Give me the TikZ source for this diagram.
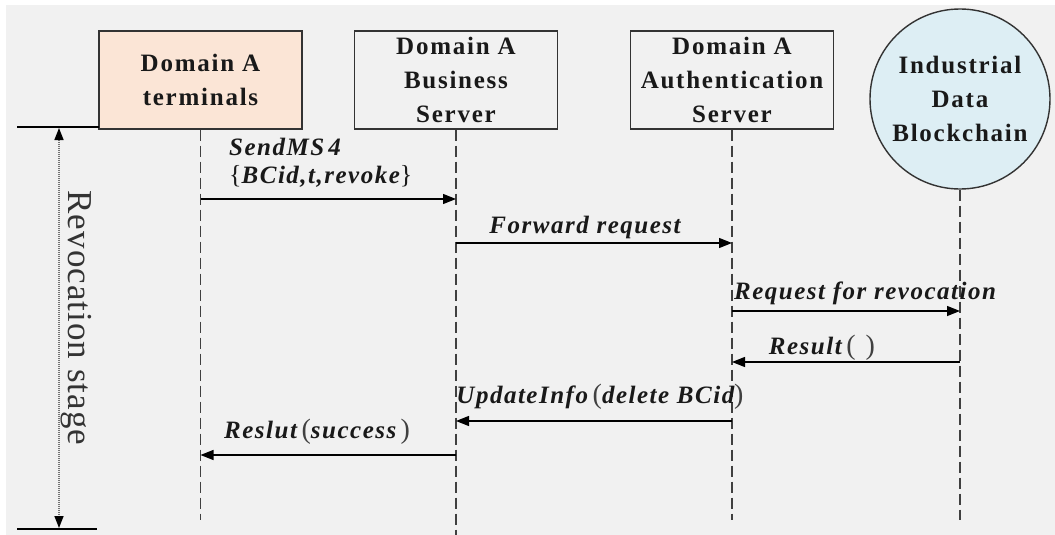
\documentclass[tikz,border=0pt]{standalone}
\usepackage{fontspec}
\setmainfont{Liberation Serif}
\newfontfamily\boxfont[LetterSpace=7]{Liberation Serif}
\newfontfamily\msgfont[LetterSpace=6]{Liberation Serif}
\newfontfamily\stagefont[LetterSpace=3]{Liberation Serif}
\usetikzlibrary{arrows.meta}
\definecolor{termfill}{HTML}{FBE5D6}
\definecolor{chainfill}{HTML}{DDEEF4}
\definecolor{paper}{HTML}{F1F1F1}
\newcommand{\lpar}{{\normalfont\color{black!75}\fontsize{28}{28}\selectfont\,(}}
\newcommand{\rpar}{{\normalfont\color{black!75}\fontsize{28}{28}\selectfont)}}
\newcommand{\lbr}{{\normalfont\fontsize{26}{26}\selectfont\{}}
\newcommand{\rbr}{{\normalfont\fontsize{26}{26}\selectfont\}}}

\begin{document}
\begin{tikzpicture}
  [x=1pt,y=-1pt,every node/.style={inner sep=0pt,text=black!90},
   actor/.style={draw=black!80,line width=1.4pt,minimum width=203pt,minimum height=98pt,
     align=center,font={\boxfont\bfseries\fontsize{25}{34}\selectfont}},
   chain/.style={actor,circle,minimum size=180pt},
   lifeline/.style={draw=black!75,line width=1.5pt,dash pattern=on 11pt off 5pt},
   msg/.style={line width=1.4pt,-{Triangle[length=13pt,width=10pt]}},
   msglabel/.style={font={\msgfont\bfseries\itshape\fontsize{25}{28}\selectfont}}]
  \useasboundingbox (0,0) rectangle (1055,535);
  \fill[white] (0,0) rectangle (1055,535);
  \fill[paper] (6,5) rectangle (1055,535);

  \node[actor,fill=termfill] (term) at (200.5,80) {Domain A\\terminals};
  \node[actor] (bus) at (456,80) {Domain A\\Business\\Server};
  \node[actor] (auth) at (732,80) {Domain A\\Authentication\\Server};
  \node[chain,fill=chainfill] (chain) at (960,99) {Industrial\\Data\\Blockchain};

  \coordinate (termEnd) at (200.5,520);
  \coordinate (busEnd) at (456,535);
  \coordinate (authEnd) at (732,520);
  \coordinate (chainEnd) at (960,520);
  \foreach \from/\to in {term/termEnd,bus/busEnd,auth/authEnd,chain/chainEnd}
    \draw[lifeline] (\from) -- (\to);

  \foreach \name/\x in {t/200.5,b/456,a/732,c/960}
    \foreach \k/\y in {1/199,2/243,3/311,4/362,5/421,6/455}
      \coordinate (\name\k) at (\x,\y);
  \foreach \from/\to in {t1/b1,b2/a2,a3/c3,c4/a4,a5/b5,b6/t6}
    \draw[msg] (\from) -- (\to);

  \node[msglabel,align=left,anchor=west] (l1) at (229,163) {SendMS\,4\\\lbr BCid,t,revoke\rbr};
  \node[msglabel] (l2) at (585,227) {Forward request};
  \node[msglabel] (l3) at (865,293) {Request for revocation};
  \node[msglabel] (l4) at (822,348) {Result\lpar\hspace{10pt}\rpar};
  \node[msglabel] (l5) at (600,397) {UpdateInfo\lpar delete BCid\rpar};
  \node[msglabel] (l6) at (317,432) {Reslut\lpar success\,\rpar};

  % revocation stage marker
  \coordinate (topL) at (17,127);
  \coordinate (topR) at (99,127);
  \coordinate (botL) at (17,529);
  \coordinate (botR) at (97,529);
  \coordinate (stageTop) at (59,128);
  \coordinate (stageBot) at (59,528);
  \draw[line width=1.4pt] (topL) -- (topR);
  \draw[line width=1.4pt] (botL) -- (botR);
  \draw[black!55,line width=1.5pt,dash pattern=on 1pt off 1pt,
    {Triangle[length=12pt,width=9pt,black]}-{Triangle[length=12pt,width=9pt,black]}]
    (stageTop) -- (stageBot);
  \node[rotate=-90,text=black!80,font={\stagefont\fontsize{35}{35}\selectfont}] (stage) at (76,318) {Revocation stage};
\end{tikzpicture}
\end{document}
